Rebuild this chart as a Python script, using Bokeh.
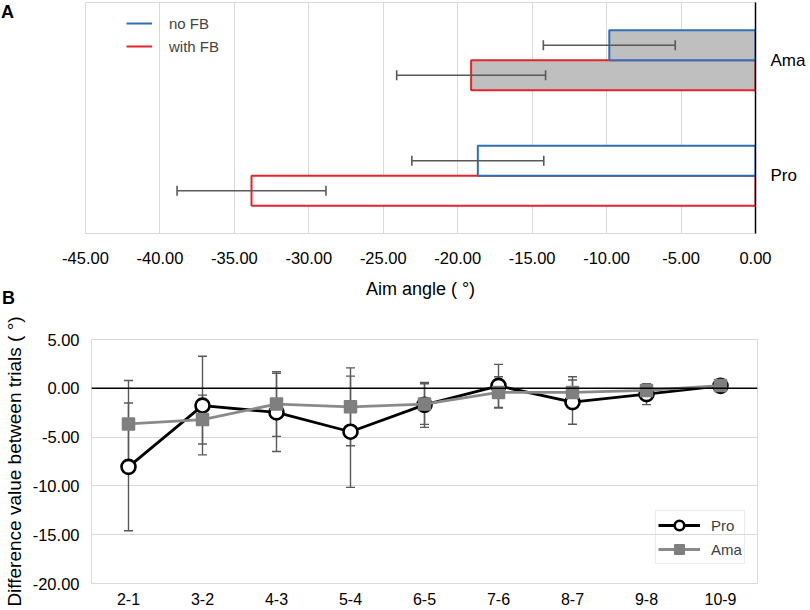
import numpy as np
from bokeh.plotting import figure
from bokeh.models import (Range1d, FactorRange, FixedTicker, NumeralTickFormatter,
                          Legend, LegendItem, Span, ColumnDataSource, Div)
from bokeh.transform import dodge
from bokeh.layouts import column
from bokeh.embed import file_html
from bokeh.resources import INLINE

# ---------------- data: panel A ----------------
groups = ["Pro", "Ama"]
noFB_mean = [-18.65, -9.82]
noFB_sd = [4.43, 4.43]
withFB_mean = [-33.85, -19.10]
withFB_sd = [5.00, 5.00]
aim_ticks = [-45, -40, -35, -30, -25, -20, -15, -10, -5, 0]

# ---------------- data: panel B ----------------
trials = ["2-1", "3-2", "4-3", "5-4", "6-5", "7-6", "8-7", "9-8", "10-9"]
pro_mean = [-8.05, -1.77, -2.47, -4.45, -1.70, 0.25, -1.42, -0.60, 0.25]
pro_sd = [6.55, 5.05, 4.00, 5.70, 2.30, 2.20, 2.27, 1.07, 0.40]
ama_mean = [-3.65, -3.20, -1.62, -1.90, -1.62, -0.42, -0.42, -0.22, 0.28]
ama_sd = [4.45, 2.50, 3.31, 3.99, 2.08, 1.60, 1.60, 0.70, 0.35]
diff_ticks = [-20, -15, -10, -5, 0, 5]

FONT = "Liberation Sans"
BLUE = "#2e6fb7"
RED = "#e3242b"
GRID = "#d9d9d9"
ERR = "#595959"

# ================= Panel A =================
pA = figure(width=810, height=305, x_range=Range1d(-45, 0),
            y_range=FactorRange(factors=groups), y_axis_location="right",
            output_backend="svg", toolbar_location=None, frame_align=False,
            min_border_left=85, min_border_right=55, min_border_top=2, min_border_bottom=72)
pA.background_fill_color = "white"
pA.border_fill_color = "white"
pA.outline_line_color = GRID
pA.outline_line_width = 1

fills = ["#bfbfbf" if g == "Ama" else "#ffffff" for g in groups]
srcA = ColumnDataSource(dict(
    g=groups, fill=fills,
    no=noFB_mean,
    nolo=[m - s for m, s in zip(noFB_mean, noFB_sd)],
    nohi=[m + s for m, s in zip(noFB_mean, noFB_sd)],
    w=withFB_mean,
    wlo=[m - s for m, s in zip(withFB_mean, withFB_sd)],
    whi=[m + s for m, s in zip(withFB_mean, withFB_sd)],
))

off = 0.13
y_no = dodge("g", off, range=pA.y_range)
y_w = dodge("g", -off, range=pA.y_range)

pA.hbar(y=y_w, left="w", right=0, height=0.26, fill_color="fill",
        line_color=RED, line_width=2, source=srcA)
pA.hbar(y=y_no, left="no", right=0, height=0.26, fill_color="fill",
        line_color=BLUE, line_width=2, source=srcA)

for lo, hi, yy in (("nolo", "nohi", y_no), ("wlo", "whi", y_w)):
    pA.segment(x0=lo, y0=yy, x1=hi, y1=yy, line_color=ERR, line_width=1.6, source=srcA)
    pA.scatter(x=lo, y=yy, marker="dash", angle=np.pi / 2, size=10,
               line_color=ERR, line_width=1.6, source=srcA)
    pA.scatter(x=hi, y=yy, marker="dash", angle=np.pi / 2, size=10,
               line_color=ERR, line_width=1.6, source=srcA)

xa = pA.xaxis[0]
xa.ticker = FixedTicker(ticks=aim_ticks)
xa.formatter = NumeralTickFormatter(format="0.00")
xa.axis_line_color = None
xa.major_tick_line_color = None
xa.major_tick_out = 0
xa.major_tick_in = 0
xa.minor_tick_line_color = None
xa.minor_tick_out = 0
xa.major_label_text_font = FONT
xa.major_label_text_font_size = "16.5px"
xa.major_label_text_color = "#000000"
xa.major_label_standoff = 18
xa.axis_label = "Aim angle ( °)"
xa.axis_label_text_font = FONT
xa.axis_label_text_font_size = "18px"
xa.axis_label_text_font_style = "normal"
xa.axis_label_text_color = "#000000"
xa.axis_label_standoff = 12

ya = pA.yaxis[0]
ya.axis_line_color = "#000000"
ya.axis_line_width = 1.5
ya.major_tick_line_color = None
ya.major_tick_out = 0
ya.major_tick_in = 0
ya.minor_tick_line_color = None
ya.major_label_text_font = FONT
ya.major_label_text_font_size = "17px"
ya.major_label_text_color = "#000000"
ya.major_label_standoff = 15

pA.xgrid.ticker = FixedTicker(ticks=aim_ticks)
pA.xgrid.grid_line_color = GRID
pA.ygrid.grid_line_color = None

# legend-only line renderers (NaN data: nothing drawn in the plot area)
lA1 = pA.line(x=[np.nan, np.nan], y=groups, line_color=BLUE, line_width=2)
lA2 = pA.line(x=[np.nan, np.nan], y=groups, line_color=RED, line_width=2)
legA = Legend(items=[LegendItem(label="no FB", renderers=[lA1]),
                     LegendItem(label="with FB", renderers=[lA2])],
              location=(41, 177), border_line_color=None, background_fill_alpha=0,
              glyph_width=26, glyph_height=20, spacing=3, label_standoff=17,
              padding=5, margin=0, label_text_font=FONT, label_text_font_size="15px")
pA.add_layout(legA)

# ================= Panel B =================
pB = figure(width=810, height=305, x_range=FactorRange(factors=trials),
            y_range=Range1d(-20, 5), output_backend="svg", toolbar_location=None,
            frame_align=False,
            min_border_left=90, min_border_right=53, min_border_top=34, min_border_bottom=27)
pB.background_fill_color = "white"
pB.border_fill_color = "white"
pB.outline_line_color = GRID
pB.outline_line_width = 1

srcP = ColumnDataSource(dict(
    t=trials, m=pro_mean,
    lo=[m - s for m, s in zip(pro_mean, pro_sd)],
    hi=[m + s for m, s in zip(pro_mean, pro_sd)]))
srcM = ColumnDataSource(dict(
    t=trials, m=ama_mean,
    lo=[m - s for m, s in zip(ama_mean, ama_sd)],
    hi=[m + s for m, s in zip(ama_mean, ama_sd)]))

pB.add_layout(Span(location=0, dimension="width", line_color="#000000", line_width=1.5))

for src in (srcP, srcM):
    pB.segment(x0="t", y0="lo", x1="t", y1="hi", line_color=ERR, line_width=1.4, source=src)
    pB.scatter(x="t", y="lo", marker="dash", size=9, line_color=ERR, line_width=1.4, source=src)
    pB.scatter(x="t", y="hi", marker="dash", size=9, line_color=ERR, line_width=1.4, source=src)

rPl = pB.line(x="t", y="m", line_color="#000000", line_width=2.8, source=srcP)
rPm = pB.scatter(x="t", y="m", marker="circle", size=14, fill_color="#ffffff",
                 line_color="#000000", line_width=2.6, source=srcP)
rAl = pB.line(x="t", y="m", line_color="#8a8a8a", line_width=2.8, source=srcM)
rAm = pB.scatter(x="t", y="m", marker="square", size=12, fill_color="#7f7f7f",
                 line_color="#7f7f7f", line_width=1.5, source=srcM)

xb = pB.xaxis[0]
xb.axis_line_color = None
xb.major_tick_line_color = None
xb.major_tick_out = 0
xb.major_tick_in = 0
xb.minor_tick_line_color = None
xb.major_label_text_font = FONT
xb.major_label_text_font_size = "16px"
xb.major_label_text_color = "#000000"
xb.major_label_standoff = 9

yb = pB.yaxis[0]
yb.ticker = FixedTicker(ticks=diff_ticks)
yb.formatter = NumeralTickFormatter(format="0.00")
yb.axis_line_color = None
yb.major_tick_line_color = None
yb.major_tick_out = 0
yb.major_tick_in = 0
yb.minor_tick_line_color = None
yb.minor_tick_out = 0
yb.major_label_text_font = FONT
yb.major_label_text_font_size = "16.5px"
yb.major_label_text_color = "#000000"
yb.major_label_standoff = 12
yb.axis_label = "Difference value between trials ( °)"
yb.axis_label_text_font = FONT
yb.axis_label_text_font_size = "19px"
yb.axis_label_text_font_style = "normal"
yb.axis_label_text_color = "#000000"
yb.axis_label_standoff = 5

pB.xgrid.grid_line_color = None
pB.ygrid.ticker = FixedTicker(ticks=diff_ticks)
pB.ygrid.grid_line_color = GRID

legB = Legend(items=[LegendItem(label="Pro", renderers=[rPl, rPm]),
                     LegendItem(label="Ama", renderers=[rAl, rAm])],
              location=(564, 19), border_line_color=GRID, border_line_width=1.2,
              background_fill_alpha=0, glyph_width=42, glyph_height=24, spacing=-3,
              label_standoff=11, padding=2, margin=0,
              label_text_font=FONT, label_text_font_size="15px", label_text_color="#404040")
pB.add_layout(legB)

# ---------------- panel letters (HTML text placed over the page corner) ----------------
letter_style = {"position": "absolute", "font-family": FONT, "font-size": "18px",
                "font-weight": "bold", "color": "#000000", "line-height": "18px",
                "margin": "0", "padding": "0", "z-index": "10"}
divA = Div(text="A", width=16, height=18, styles=dict(letter_style, left="1px", top="3px"))
divB = Div(text="B", width=16, height=18, styles=dict(letter_style, left="2px", top="289px"))

layout = column(pA, pB, divA, divB)
open("out.html", "w").write(file_html(layout, INLINE))
